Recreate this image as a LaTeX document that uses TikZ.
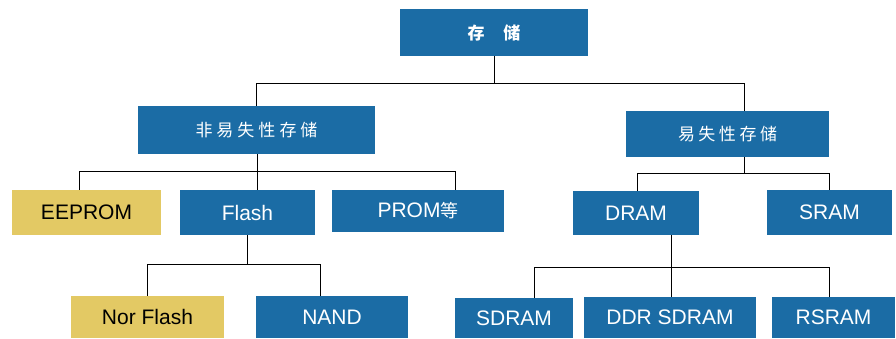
\documentclass[tikz,border=0pt]{standalone}
\usepackage{fontspec}
\setmainfont{Liberation Sans}
\newfontfamily\cjk{Noto Sans CJK SC}
\definecolor{boxblue}{RGB}{27,108,165}
\definecolor{boxyellow}{RGB}{227,201,100}
\begin{document}
\begin{tikzpicture}[x=1pt,y=-1pt,
  bluebox/.style={fill=boxblue,text=white,inner sep=0pt,font=\fontsize{21}{24}\selectfont},
  yellowbox/.style={fill=boxyellow,text=black,inner sep=0pt,font=\fontsize{21}{24}\selectfont},
  cjkbox/.style={fill=boxblue,text=white,inner sep=0pt,font=\cjk\fontsize{17}{20}\selectfont},
  wire/.style={draw=black,line width=0.9pt}]
\useasboundingbox (0,0) rectangle (896,338);
% nodes
\node[cjkbox,minimum width=188pt,minimum height=47pt] (top) at (494,32.5) {\bfseries 存\hspace{19pt}储};
\node[cjkbox,minimum width=237pt,minimum height=48pt] (nv) at (256.5,130) {非\kern4pt 易\kern4pt 失\kern4pt 性\kern4pt 存\kern4pt 储};
\node[cjkbox,minimum width=203pt,minimum height=46pt] (v) at (727.5,134) {易\kern3.5pt 失\kern3.5pt 性\kern3.5pt 存\kern3.5pt 储};
\node[yellowbox,minimum width=149pt,minimum height=45pt] (eeprom) at (86.5,212.5) {EEPROM};
\node[bluebox,minimum width=135pt,minimum height=45pt] (flash) at (247.5,212.5) {Flash};
\node[bluebox,minimum width=172pt,minimum height=42pt] (prom) at (418,211) {PROM{\cjk\fontsize{18}{20}\selectfont 等}};
\node[bluebox,minimum width=126pt,minimum height=44pt] (dram) at (636,213) {DRAM};
\node[bluebox,minimum width=125pt,minimum height=45pt] (sram) at (829.5,212.5) {SRAM};
\node[yellowbox,minimum width=153pt,minimum height=42pt] (nor) at (147.5,317) {Nor Flash};
\node[bluebox,minimum width=152pt,minimum height=42pt] (nand) at (332,317) {NAND};
\node[bluebox,minimum width=118pt,minimum height=40pt] (sdram) at (514,318) {SDRAM};
\node[bluebox,minimum width=172pt,minimum height=41pt] (ddr) at (670,317.5) {DDR SDRAM};
\node[bluebox,minimum width=123pt,minimum height=41pt] (rsram) at (833.5,317.5) {RSRAM};
% bus coordinates
\coordinate (a1) at (256,83);
\coordinate (a2) at (744,83);
\coordinate (b1) at (79,171);
\coordinate (b2) at (257,171);
\coordinate (b3) at (455,171);
\coordinate (c1) at (147,264);
\coordinate (c2) at (320,264);
\coordinate (d1) at (637,173);
\coordinate (d2) at (829,173);
\coordinate (e1) at (534,267);
\coordinate (e2) at (829,267);
\coordinate (e0) at (671,267);
% root level
\draw[wire] (top.south) -- (top.south |- a1);
\draw[wire] (a1) -- (a2);
\draw[wire] (a1) -- (a1 |- nv.north);
\draw[wire] (a2) -- (a2 |- v.north);
% non-volatile
\draw[wire] (b2 |- nv.south) -- (b2);
\draw[wire] (b1) -- (b3);
\draw[wire] (b1) -- (b1 |- eeprom.north);
\draw[wire] (b2) -- (b2 |- flash.north);
\draw[wire] (b3) -- (b3 |- prom.north);
% flash
\draw[wire] (flash.south) -- (flash.south |- c1);
\draw[wire] (c1) -- (c2);
\draw[wire] (c1) -- (c1 |- nor.north);
\draw[wire] (c2) -- (c2 |- nand.north);
% volatile
\draw[wire] (a2 |- v.south) -- (a2 |- d1);
\draw[wire] (d1) -- (d2);
\draw[wire] (d1) -- (d1 |- dram.north);
\draw[wire] (d2) -- (d2 |- sram.north);
% dram
\draw[wire] (e0 |- dram.south) -- (e0 |- ddr.north);
\draw[wire] (e1) -- (e2);
\draw[wire] (e1) -- (e1 |- sdram.north);
\draw[wire] (e2) -- (e2 |- rsram.north);
\end{tikzpicture}
\end{document}
